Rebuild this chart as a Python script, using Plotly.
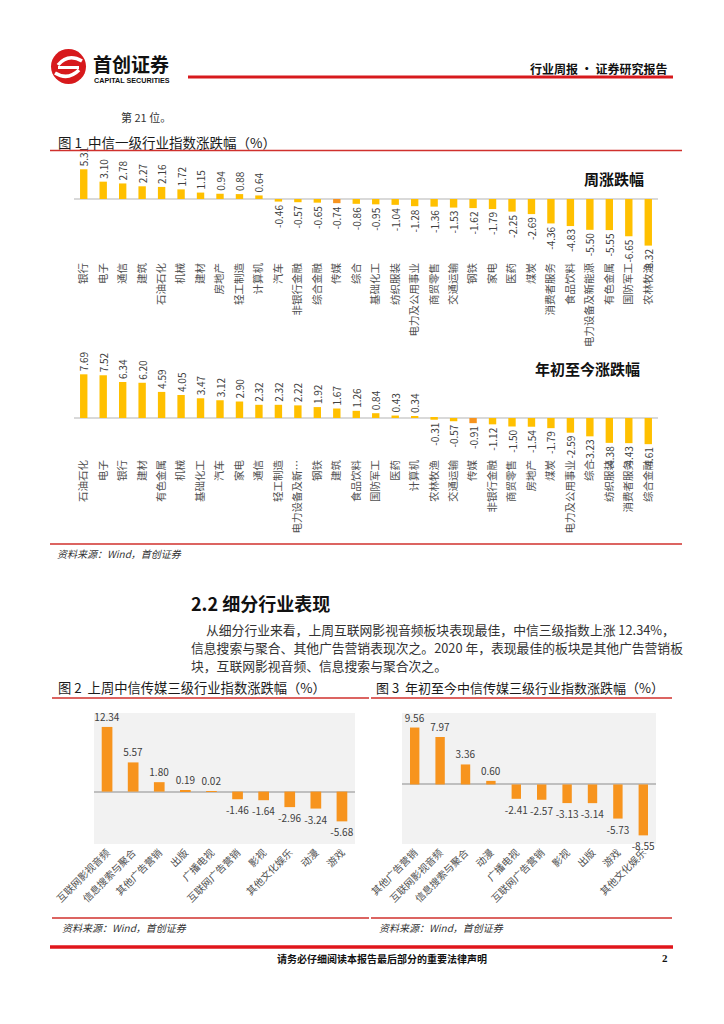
import plotly.graph_objects as go

# ---------------- data ----------------
week_cats = ["银行", "电子", "通信", "建筑", "石油石化", "机械", "建材", "房地产", "轻工制造", "计算机",
             "汽车", "非银行金融", "综合金融", "传媒", "综合", "基础化工", "纺织服装", "电力及公用事业",
             "商贸零售", "交通运输", "钢铁", "家电", "医药", "煤炭", "消费者服务", "食品饮料",
             "电力设备及新能源", "有色金属", "国防军工", "农林牧渔"]
week_vals = [5.31, 3.10, 2.78, 2.27, 2.16, 1.72, 1.15, 0.94, 0.88, 0.64,
             -0.46, -0.57, -0.65, -0.74, -0.86, -0.95, -1.04, -1.28,
             -1.36, -1.53, -1.62, -1.79, -2.25, -2.69, -4.36, -4.83,
             -5.50, -5.55, -6.65, -8.32]

ytd_cats = ["石油石化", "电子", "银行", "建材", "有色金属", "机械", "基础化工", "汽车", "家电", "通信",
            "轻工制造", "电力设备及新…", "钢铁", "建筑", "食品饮料", "国防军工", "医药", "计算机",
            "农林牧渔", "交通运输", "传媒", "非银行金融", "商贸零售", "房地产", "煤炭",
            "电力及公用事业", "综合", "纺织服装", "消费者服务", "综合金融"]
ytd_vals = [7.69, 7.52, 6.34, 6.20, 4.59, 4.05, 3.47, 3.12, 2.90, 2.32,
            2.32, 2.22, 1.92, 1.67, 1.26, 0.84, 0.43, 0.34,
            -0.31, -0.57, -0.91, -1.12, -1.50, -1.54, -1.79,
            -2.59, -3.23, -4.38, -4.43, -4.61]

media_week_cats = ["互联网影视音频", "信息搜索与聚合", "其他广告营销", "出版", "广播电视",
                   "互联网广告营销", "影视", "其他文化娱乐", "动漫", "游戏"]
media_week_vals = [12.34, 5.57, 1.80, 0.19, 0.02, -1.46, -1.64, -2.96, -3.24, -5.68]

media_ytd_cats = ["其他广告营销", "互联网影视音频", "信息搜索与聚合", "动漫", "广播电视",
                  "互联网广告营销", "影视", "出版", "游戏", "其他文化娱乐"]
media_ytd_vals = [9.56, 7.97, 3.36, 0.60, -2.41, -2.57, -3.13, -3.14, -5.73, -8.55]

# ---------------- styling helpers ----------------
W, H = 724, 1024
GOLD = "#FFC000"
ORANGE = "#F7941E"
RED = "#D0312D"
CJK = "Noto Sans CJK SC"


def fx(px):
    return px / W


def fy(py):
    return 1 - py / H


fig = go.Figure()

# ---- Figure 1 top: weekly ----
fig.add_trace(go.Bar(
    x=week_cats, y=week_vals, xaxis="x", yaxis="y", width=0.38,
    marker=dict(color=[ORANGE if c == "传媒" else GOLD for c in week_cats], line=dict(width=0)),
    texttemplate="%{y:.2f}", textposition="outside", textangle=-90, constraintext="none",
    textfont=dict(size=10, color="#404040", family=CJK), cliponaxis=False, showlegend=False))

# ---- Figure 1 bottom: year-to-date ----
fig.add_trace(go.Bar(
    x=ytd_cats, y=ytd_vals, xaxis="x2", yaxis="y2", width=0.38,
    marker=dict(color=[ORANGE if c == "传媒" else GOLD for c in ytd_cats], line=dict(width=0)),
    texttemplate="%{y:.2f}", textposition="outside", textangle=-90, constraintext="none",
    textfont=dict(size=10, color="#404040", family=CJK), cliponaxis=False, showlegend=False))

# ---- Figure 2 ----
fig.add_trace(go.Bar(
    x=media_week_cats, y=media_week_vals, xaxis="x3", yaxis="y3", width=0.41,
    marker=dict(color=ORANGE, line=dict(width=0)),
    texttemplate="%{y:.2f}", textposition="outside", textangle=0, constraintext="none",
    textfont=dict(size=10, color="#404040", family=CJK), cliponaxis=False, showlegend=False))

# ---- Figure 3 ----
fig.add_trace(go.Bar(
    x=media_ytd_cats, y=media_ytd_vals, xaxis="x4", yaxis="y4", width=0.37,
    marker=dict(color=ORANGE, line=dict(width=0)),
    texttemplate="%{y:.2f}", textposition="outside", textangle=0, constraintext="none",
    textfont=dict(size=10, color="#404040", family=CJK), cliponaxis=False, showlegend=False))

xcommon = dict(type="category", showgrid=False, showline=False, ticks="", zeroline=False,
               tickfont=dict(size=10.5, color="#505050", family=CJK), fixedrange=True)
ycommon = dict(showgrid=False, showticklabels=False, showline=False, ticks="", fixedrange=True,
               zeroline=True)

fig.update_layout(
    width=W, height=H, margin=dict(l=0, r=0, t=0, b=0, autoexpand=False),
    paper_bgcolor="white", plot_bgcolor="rgba(0,0,0,0)",
    font=dict(family=CJK, color="#222"),
    xaxis=dict(xcommon, domain=[fx(74), fx(658)], anchor="y", tickangle=-90),
    yaxis=dict(ycommon, domain=[fy(260), fy(155)], anchor="x", range=[-10.89, 7.86],
               zerolinecolor="#D9D9D9", zerolinewidth=2),
    xaxis2=dict(xcommon, domain=[fx(74), fx(658)], anchor="y2", tickangle=-90),
    yaxis2=dict(ycommon, domain=[fy(457), fy(350)], anchor="x2", range=[-6.87, 11.97],
                zerolinecolor="#D9D9D9", zerolinewidth=2),
    xaxis3=dict(xcommon, domain=[fx(94), fx(355)], anchor="y3", tickangle=-45,
                tickfont=dict(size=10, color="#505050", family=CJK)),
    yaxis3=dict(ycommon, domain=[fy(844), fy(713)], anchor="x3", range=[-10, 15],
                zerolinecolor="#BFBFBF", zerolinewidth=1.5),
    xaxis4=dict(xcommon, domain=[fx(402), fx(656)], anchor="y4", tickangle=-45,
                tickfont=dict(size=10, color="#505050", family=CJK)),
    yaxis4=dict(ycommon, domain=[fy(844), fy(713)], anchor="x4", range=[-10, 12],
                zerolinecolor="#BFBFBF", zerolinewidth=1.5),
)

shapes = []


def hline(x0, x1, y, color=RED, w=1.5):
    shapes.append(dict(type="line", xref="paper", yref="paper", x0=fx(x0), x1=fx(x1),
                       y0=fy(y), y1=fy(y), line=dict(color=color, width=w)))


# gray panels of figure 2 and 3
for (x0, x1) in [(94, 355), (402, 656)]:
    shapes.append(dict(type="rect", xref="paper", yref="paper", x0=fx(x0), x1=fx(x1),
                       y0=fy(844), y1=fy(713), fillcolor="#F2F2F2", line=dict(width=0), layer="below"))

# header
hline(188, 673, 77, color="#D7191C", w=3)
shapes.append(dict(type="circle", xref="paper", yref="paper", x0=fx(51), x1=fx(86),
                   y0=fy(84), y1=fy(49), fillcolor="#D7191C", line=dict(width=0)))
# logo ribbon
shapes.append(dict(type="path", xref="paper", yref="paper",
                   path="M {} {} Q {} {} {} {}".format(fx(58), fy(65), fx(68), fy(53), fx(82), fy(61)),
                   line=dict(color="white", width=3.5)))
shapes.append(dict(type="path", xref="paper", yref="paper",
                   path="M {} {} Q {} {} {} {}".format(fx(55), fy(73), fx(68), fy(81), fx(79), fy(70)),
                   line=dict(color="white", width=3.5)))
hline(58, 79, 67.5, color="white", w=3)

# figure 1 lines
hline(50, 682, 150.5)
hline(50, 682, 544)
# figure 2 / 3 lines
hline(52, 369, 698)
hline(371, 672, 698)
hline(52, 369, 918)
hline(371, 672, 918)
# footer
hline(50, 673, 947, color="#E0161B", w=3.5)

annotations = []


def txt(text, x, y, size, color="#222", xanchor="left", yanchor="middle", family=CJK):
    annotations.append(dict(text=text, x=fx(x), y=fy(y), xref="paper", yref="paper",
                            xanchor=xanchor, yanchor=yanchor, showarrow=False,
                            font=dict(size=size, color=color, family=family)))


txt("<b>首创证券</b>", 91, 63, 19, color="#111")
txt("<b>CAPITAL SECURITIES</b>", 92, 80.5, 7.2, color="#111", family="Liberation Sans")
txt("<b>行业周报 · 证券研究报告</b>", 669, 68, 12, color="#111", xanchor="right")
txt("第 21 位。", 119, 117, 11, color="#333")

txt("图 1  中信一级行业指数涨跌幅（%）", 56, 142, 13.5, color="#1a1a1a")
txt("<b>周涨跌幅</b>", 614, 178, 15, color="#111", xanchor="center")
txt("<b>年初至今涨跌幅</b>", 587, 368, 15, color="#111", xanchor="center")
txt("<i>资料来源：Wind，首创证券</i>", 55, 553, 10, color="#333")

txt("<b>2.2 细分行业表现</b>", 189, 603, 18, color="#111")
txt("从细分行业来看，上周互联网影视音频板块表现最佳，中信三级指数上涨 12.34%，", 204, 629, 12.8, color="#333")
txt("信息搜索与聚合、其他广告营销表现次之。2020 年，表现最佳的板块是其他广告营销板", 189, 647, 12.8, color="#333")
txt("块，互联网影视音频、信息搜索与聚合次之。", 189, 665, 12.8, color="#333")

txt("图 2  上周中信传媒三级行业指数涨跌幅（%）", 56, 687, 13.3, color="#1a1a1a")
txt("图 3  年初至今中信传媒三级行业指数涨跌幅（%）", 374, 687, 13, color="#1a1a1a")
txt("<i>资料来源：Wind，首创证券</i>", 60, 927, 10, color="#333")
txt("<i>资料来源：Wind，首创证券</i>", 377, 927, 10, color="#333")

txt("<b>请务必仔细阅读本报告最后部分的重要法律声明</b>", 382, 958, 10, color="#111", xanchor="center")
txt("<b>2</b>", 670, 958, 11, color="#111", xanchor="right", family="Liberation Serif")

fig.update_layout(shapes=shapes, annotations=annotations)

fig.write_html("out.html", config={"displayModeBar": False},
               post_script="document.body.style.margin='0px';document.body.style.overflow='hidden';")
